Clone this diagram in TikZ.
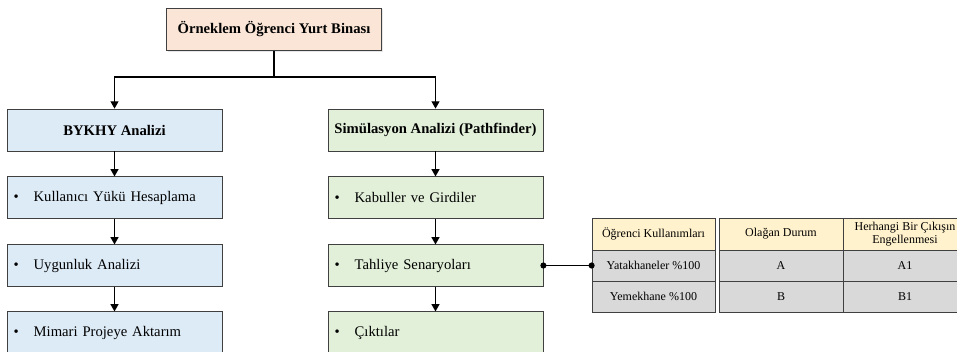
\documentclass[tikz,border=0pt]{standalone}
\usepackage{fontspec}
\setmainfont{Liberation Serif}
\usetikzlibrary{arrows.meta,shadows}
\definecolor{peach}{HTML}{FBE5D6}
\definecolor{lblue}{HTML}{DDEBF7}
\definecolor{lgreen}{HTML}{E2F0D9}
\definecolor{lyellow}{HTML}{FFF2CC}
\definecolor{lgray}{HTML}{D9D9D9}
\definecolor{boxline}{HTML}{404040}
\tikzset{
  box/.style={draw=boxline, line width=0.6pt, minimum width=161.25pt, minimum height=31pt, inner sep=0pt,
    font=\fontsize{11}{13}\selectfont, drop shadow={opacity=0.2, shadow xshift=0.8pt, shadow yshift=-0.8pt}},
  head/.style={box, font=\fontsize{11}{13}\selectfont\bfseries},
  item/.style={box, text width=151.25pt, inner xsep=5pt, align=left},
  cell/.style={draw=boxline, line width=0.6pt, inner sep=0pt, align=center, font=\fontsize{9}{10}\selectfont,
    drop shadow={opacity=0.2, shadow xshift=0.8pt, shadow yshift=-0.8pt}},
  link/.style={line width=0.9pt, -{Triangle[width=6pt,length=5.5pt]}}
}
\newcommand{\itm}[1]{\makebox[15pt][l]{\textbullet}#1}
\begin{document}
\begin{tikzpicture}[x=0.75pt,y=-0.75pt]
\useasboundingbox (0,0) rectangle (957,351);
\node[head, fill=peach, minimum height=32pt] (yurt) at (274,29.5) {Örneklem Öğrenci Yurt Binası};
% BYKHY
\node[head, fill=lblue, minimum height=31.5pt] (bykhy) at (114.5,130) {BYKHY Analizi};
\node[item, fill=lblue] (kul) at (114.5,197.5) {\itm{Kullanıcı Yükü Hesaplama}};
\node[item, fill=lblue] (uyg) at (114.5,265.5) {\itm{Uygunluk Analizi}};
\node[item, fill=lblue] (mim) at (114.5,332.5) {\itm{Mimari Projeye Aktarım}};
% Pathfinder
\node[head, fill=lgreen, minimum height=31.5pt] (sim) at (435.5,130) {Simülasyon Analizi (Pathfinder)};
\node[item, fill=lgreen] (kab) at (435.5,197.5) {\itm{Kabuller ve Girdiler}};
\node[item, fill=lgreen] (tah) at (435.5,265.5) {\itm{Tahliye Senaryoları}};
\node[item, fill=lgreen] (cik) at (435.5,332.5) {\itm{Çıktılar}};
% table
\node[cell, fill=lyellow, minimum width=92.25pt, minimum height=24pt] (kh) at (653.5,234) {Öğrenci Kullanımları};
\node[cell, fill=lgray, minimum width=92.25pt, minimum height=23.25pt] (k1) at (653.5,265.5) {Yatakhaneler \%100};
\node[cell, fill=lgray, minimum width=92.25pt, minimum height=23.25pt] (k2) at (653.5,296.5) {Yemekhane \%100};
\node[cell, fill=lyellow, minimum width=93pt, minimum height=24pt] (oh) at (781,234) {Olağan Durum};
\node[cell, fill=lgray, minimum width=93pt, minimum height=23.25pt] (o1) at (781,265.5) {A};
\node[cell, fill=lgray, minimum width=93pt, minimum height=23.25pt] (o2) at (781,296.5) {B};
\node[cell, fill=lyellow, minimum width=93pt, minimum height=24pt] (eh) at (905,234) {Herhangi Bir Çıkışın\\Engellenmesi};
\node[cell, fill=lgray, minimum width=93pt, minimum height=23.25pt] (e1) at (905,265.5) {A1};
\node[cell, fill=lgray, minimum width=93pt, minimum height=23.25pt] (e2) at (905,296.5) {B1};
% connectors
\coordinate (split) at (274,77);
\draw[line width=0.9pt] (yurt.south) -- (split);
\draw[link] (split) -| (bykhy.north);
\draw[link] (split) -| (sim.north);
\draw[link] (bykhy) -- (kul);
\draw[link] (kul) -- (uyg);
\draw[link] (uyg) -- (mim);
\draw[link] (sim) -- (kab);
\draw[link] (kab) -- (tah);
\draw[link] (tah) -- (cik);
\draw[line width=0.9pt] (tah.east) -- (k1.west);
\fill (tah.east) circle (2.3pt);
\fill (k1.west) circle (2.3pt);
\end{tikzpicture}
\end{document}
